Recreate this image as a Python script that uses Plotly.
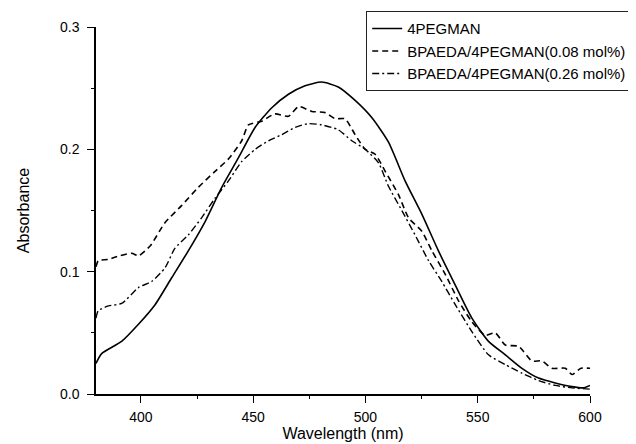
import plotly.graph_objects as go

# 4PEGMAN (solid)
wl_a = [380, 382.5, 391.4, 398.9, 406.3, 413.7, 421.1, 428.6, 436, 443.4, 450.9, 458.3, 465.7,
        473.1, 480.5, 487.9, 495.4, 502.8, 510.2, 517.7, 525.1, 532.5, 540, 547.4, 554.8,
        562.3, 569.7, 577.1, 584.5, 592, 597, 600]
abs_a = [0.025, 0.033, 0.043, 0.057, 0.073, 0.095, 0.117, 0.141, 0.169, 0.193, 0.218, 0.234, 0.245,
         0.252, 0.255, 0.251, 0.240, 0.226, 0.206, 0.174, 0.147, 0.117, 0.089, 0.062, 0.043,
         0.032, 0.021, 0.013, 0.009, 0.006, 0.005, 0.007]

# BPAEDA/4PEGMAN (0.08 mol%) (dashed)
wl_b = [380, 381, 385.5, 390.5, 395.9, 398.9, 404.1, 410.7, 418.1, 425.6, 433, 438.9, 444.9,
        447.9, 453.8, 459.7, 465.7, 470.2, 476.1, 482, 486.5, 490.9, 495.4, 499.9, 504.3,
        508.8, 514.7, 519.2, 525.1, 529.6, 535.5, 541.5, 547.4, 553.3, 557.8, 562.3, 568.2,
        574.1, 578.6, 583.1, 589, 592, 596, 600]
abs_b = [0.104, 0.109, 0.110, 0.113, 0.115, 0.113, 0.121, 0.140, 0.154, 0.169, 0.182, 0.192, 0.207,
         0.220, 0.223, 0.229, 0.227, 0.235, 0.231, 0.230, 0.225, 0.225, 0.212, 0.200, 0.196,
         0.182, 0.163, 0.144, 0.133, 0.117, 0.098, 0.076, 0.059, 0.048, 0.050, 0.040, 0.039,
         0.027, 0.027, 0.021, 0.021, 0.016, 0.021, 0.021]

# BPAEDA/4PEGMAN (0.26 mol%) (dash-dot)
wl_c = [380, 381, 385.5, 391.4, 398.9, 404.8, 410.7, 415.1, 421.1, 427, 433, 438.9, 444.9,
        450.9, 456.8, 462.7, 468.7, 474.6, 480.5, 487.9, 493.9, 499.9, 505.8, 510.2, 516.2,
        522.1, 528.1, 534, 540, 547.4, 554.8, 562.3, 569.7, 577.1, 584.5, 592, 600]
abs_c = [0.062, 0.068, 0.072, 0.074, 0.087, 0.092, 0.103, 0.119, 0.130, 0.144, 0.160, 0.174, 0.190,
         0.200, 0.207, 0.212, 0.218, 0.221, 0.220, 0.216, 0.207, 0.200, 0.189, 0.170, 0.150,
         0.130, 0.109, 0.092, 0.073, 0.051, 0.032, 0.024, 0.017, 0.011, 0.007, 0.005, 0.004]

names = ["4PEGMAN", "BPAEDA/4PEGMAN(0.08 mol%)", "BPAEDA/4PEGMAN(0.26 mol%)"]
x_ticks = [400, 450, 500, 550, 600]
y_ticks = [0.0, 0.1, 0.2, 0.3]

FONT = "Liberation Sans, Arial, sans-serif"

fig = go.Figure()
fig.add_trace(go.Scatter(x=wl_a, y=abs_a, mode="lines", name=names[0],
                         line=dict(color="black", width=1.6, shape="spline", smoothing=0.6)))
fig.add_trace(go.Scatter(x=wl_b, y=abs_b, mode="lines", name=names[1],
                         line=dict(color="black", width=1.6, dash="6px,4px", shape="spline", smoothing=0.6)))
fig.add_trace(go.Scatter(x=wl_c, y=abs_c, mode="lines", name=names[2],
                         line=dict(color="black", width=1.4, dash="7px,3px,2px,3px", shape="spline", smoothing=0.6)))

fig.update_layout(
    width=636, height=444,
    margin=dict(l=88, r=54, t=19, b=58, autoexpand=False),
    paper_bgcolor="white", plot_bgcolor="white",
    font=dict(family=FONT, size=14, color="black"),
    legend=dict(x=0.547, xanchor="left", y=1.043, yanchor="top",
                bgcolor="white", bordercolor="#222", borderwidth=1,
                font=dict(family=FONT, size=15, color="black"),
                tracegroupgap=0, itemwidth=30),
    showlegend=True,
)
fig.update_xaxes(
    range=[380, 600], tickvals=x_ticks, ticks="outside", ticklen=7, tickwidth=1.2,
    tickcolor="black", showline=True, linecolor="black", linewidth=1.5,
    showgrid=False, zeroline=False, ticklabelstandoff=2,
    minor=dict(ticks="outside", ticklen=3.5, tickwidth=1.2, tickcolor="black", dtick=25, showgrid=False),
    title=dict(text="Wavelength (nm)", font=dict(size=16), standoff=1),
    tickfont=dict(size=14),
)
fig.update_yaxes(
    range=[0, 0.3], tickvals=y_ticks, tickformat=".1f", ticks="outside", ticklen=7, tickwidth=1.2,
    tickcolor="black", showline=True, linecolor="black", linewidth=1.5,
    showgrid=False, zeroline=False, ticklabelstandoff=5,
    minor=dict(ticks="outside", ticklen=3.5, tickwidth=1.2, tickcolor="black", dtick=0.05, showgrid=False),
    title=dict(text="Absorbance", font=dict(size=16), standoff=26),
    tickfont=dict(size=14),
)

fig.write_html("out.html")
